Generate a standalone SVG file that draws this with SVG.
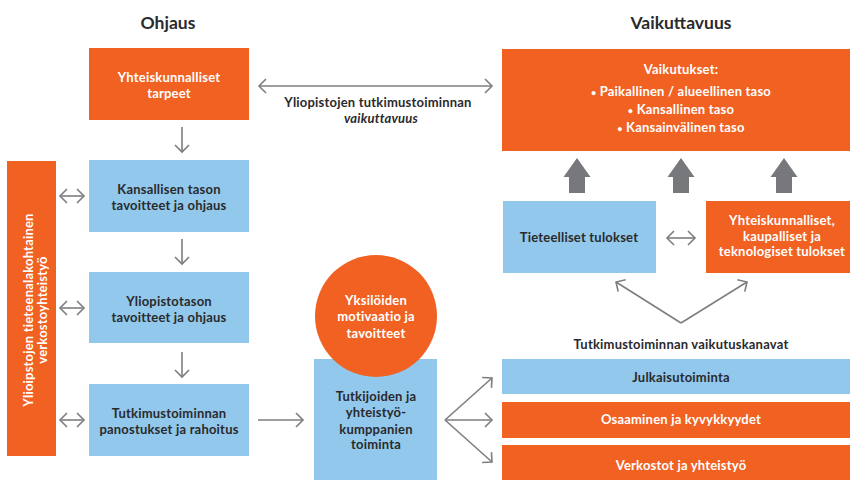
<svg xmlns="http://www.w3.org/2000/svg" width="850" height="480" viewBox="0 0 850 480">
<defs>
<style>
.or{fill:#F16122}
.bl{fill:#92C8EB}
text{font-family:Lato,"Open Sans","Liberation Sans",sans-serif;font-weight:bold;font-size:13px;letter-spacing:0.2px;text-anchor:middle}
.w{fill:#ffffff}
.d{fill:#2a2a2c}
.h{font-size:17.5px;letter-spacing:0;fill:#2a2a2c}
.ln{stroke:#7d7e81;stroke-width:1.6;fill:none}
.blk{fill:#77787b}
</style>
<marker id="ah" markerUnits="userSpaceOnUse" markerWidth="16" markerHeight="16" viewBox="-10 -8 12 16" refX="0" refY="0" orient="auto-start-reverse">
<path d="M-7,-7 L0,0 L-7,7" fill="none" stroke="#7d7e81" stroke-width="1.6"/>
</marker>
</defs>
<rect width="850" height="480" fill="#ffffff"/>

<text class="h" x="168" y="29">Ohjaus</text>
<text class="h" x="681" y="29">Vaikuttavuus</text>

<g id="n-tarpeet">
<rect class="or" x="89" y="48" width="160" height="72"/>
<text class="w" x="169" y="82">Yhteiskunnalliset</text>
<text class="w" x="169" y="98">tarpeet</text>
</g>
<g id="n-kansallinen">
<rect class="bl" x="89" y="160" width="160" height="72"/>
<text class="d" x="169" y="194">Kansallisen tason</text>
<text class="d" x="169" y="210">tavoitteet ja ohjaus</text>
</g>
<g id="n-yliopisto">
<rect class="bl" x="89" y="272" width="160" height="71"/>
<text class="d" x="169" y="306">Yliopistotason</text>
<text class="d" x="169" y="322">tavoitteet ja ohjaus</text>
</g>
<g id="n-panostukset">
<rect class="bl" x="89" y="384" width="160" height="72"/>
<text class="d" x="169" y="418">Tutkimustoiminnan</text>
<text class="d" x="169" y="434">panostukset ja rahoitus</text>
</g>
<g id="n-verkosto">
<rect class="or" x="7" y="161" width="49" height="295"/>
<text class="w" transform="translate(33,310) rotate(-90)">Ylioipstojen tieteenalakohtainen</text>
<text class="w" transform="translate(47,310) rotate(-90)">verkostoyhteistyö</text>
</g>
<g id="n-toiminta">
<rect class="bl" x="314" y="359" width="123" height="121"/>
<text class="d" x="376" y="401">Tutkijoiden ja</text>
<text class="d" x="376" y="417">yhteistyö-</text>
<text class="d" x="376" y="434">kumppanien</text>
<text class="d" x="376" y="449">toiminta</text>
</g>
<g id="n-motivaatio">
<circle class="or" cx="376" cy="316" r="61"/>
<text class="w" x="376" y="305">Yksilöiden</text>
<text class="w" x="376" y="321">motivaatio ja</text>
<text class="w" x="376" y="338">tavoitteet</text>
</g>
<g id="n-vaikutukset">
<rect class="or" x="502" y="49" width="348" height="102"/>
<text class="w" x="681" y="74">Vaikutukset:</text>
<text class="w" x="681" y="96"><tspan font-size="9">•</tspan> Paikallinen / alueellinen taso</text>
<text class="w" x="681" y="114"><tspan font-size="9">•</tspan> Kansallinen taso</text>
<text class="w" x="681" y="132"><tspan font-size="9">•</tspan> Kansainvälinen taso</text>
</g>
<g id="n-tieteelliset">
<rect class="bl" x="503" y="201" width="153" height="72"/>
<text class="d" x="579" y="242">Tieteelliset tulokset</text>
</g>
<g id="n-yhteiskunnalliset">
<rect class="or" x="706" y="201" width="144" height="72"/>
<text class="w" x="782" y="225">Yhteiskunnalliset,</text>
<text class="w" x="782" y="241">kaupalliset ja</text>
<text class="w" x="782" y="256">teknologiset tulokset</text>
</g>
<g id="n-kanavat-otsikko">
<text class="d" x="681" y="349">Tutkimustoiminnan vaikutuskanavat</text>
</g>
<g id="n-julkaisu">
<rect class="bl" x="502" y="359" width="348" height="35"/>
<text class="d" x="681" y="382">Julkaisutoiminta</text>
</g>
<g id="n-osaaminen">
<rect class="or" x="502" y="402" width="348" height="36"/>
<text class="w" x="681" y="424">Osaaminen ja kyvykkyydet</text>
</g>
<g id="n-verkostot">
<rect class="or" x="502" y="445" width="348" height="35"/>
<text class="w" x="681" y="470">Verkostot ja yhteistyö</text>
</g>

<g id="connectors">
<line class="ln" x1="259" y1="86" x2="492" y2="86" marker-start="url(#ah)" marker-end="url(#ah)"/>
<text class="d" x="378" y="107">Yliopistojen tutkimustoiminnan</text>
<text class="d" x="381" y="123" font-style="italic">vaikuttavuus</text>
<line class="ln" x1="182" y1="127" x2="182" y2="152" marker-end="url(#ah)"/>
<line class="ln" x1="182" y1="239" x2="182" y2="264" marker-end="url(#ah)"/>
<line class="ln" x1="182" y1="352" x2="182" y2="377" marker-end="url(#ah)"/>
<line class="ln" x1="60" y1="196" x2="84" y2="196" marker-start="url(#ah)" marker-end="url(#ah)"/>
<line class="ln" x1="60" y1="308" x2="84" y2="308" marker-start="url(#ah)" marker-end="url(#ah)"/>
<line class="ln" x1="60" y1="420" x2="84" y2="420" marker-start="url(#ah)" marker-end="url(#ah)"/>
<line class="ln" x1="258" y1="420" x2="303" y2="420" marker-end="url(#ah)"/>
<line class="ln" x1="445" y1="420" x2="492" y2="378" marker-end="url(#ah)"/>
<line class="ln" x1="445" y1="420" x2="492" y2="420" marker-end="url(#ah)"/>
<line class="ln" x1="445" y1="420" x2="492" y2="462" marker-end="url(#ah)"/>
<line class="ln" x1="667" y1="238" x2="695" y2="238" marker-start="url(#ah)" marker-end="url(#ah)"/>
<line class="ln" x1="681" y1="323" x2="616" y2="282" marker-end="url(#ah)"/>
<line class="ln" x1="681" y1="323" x2="747" y2="282" marker-end="url(#ah)"/>
<polygon class="blk" points="577,158 590.5,177 585,177 585,193 569,193 569,177 563.5,177"/>
<polygon class="blk" points="681,158 694.5,177 689,177 689,193 673,193 673,177 667.5,177"/>
<polygon class="blk" points="784,158 797.5,177 792,177 792,193 776,193 776,177 770.5,177"/>
</g>
</svg>
